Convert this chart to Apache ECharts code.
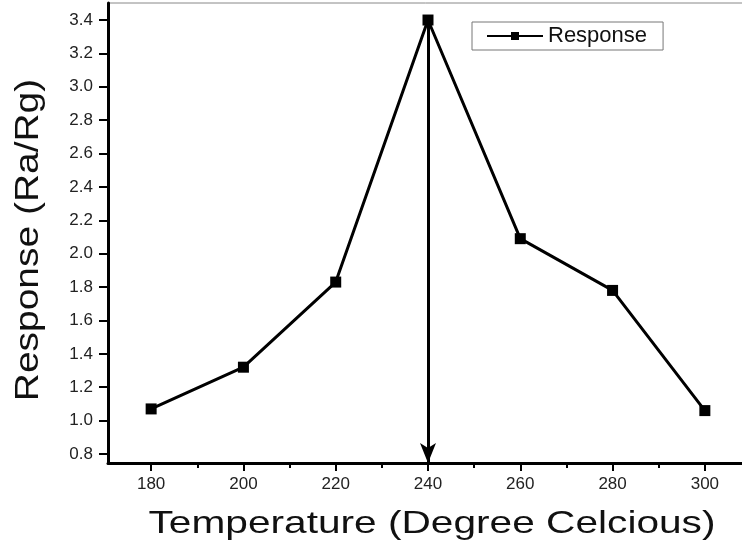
<!DOCTYPE html>
<html>
<head>
<meta charset="utf-8">
<script src="https://cdn.jsdelivr.net/npm/echarts@6/dist/echarts.min.js"></script>
<style>html,body{margin:0;padding:0;background:#fff;}#c{width:742px;height:550px;}</style>
</head>
<body>
<div id="c"></div>
<script>
const temperatures = [180, 200, 220, 240, 260, 280, 300];
const responses = [1.07, 1.32, 1.83, 3.40, 2.09, 1.78, 1.06];
const xTickLabels = [180, 200, 220, 240, 260, 280, 300];
const xMinorTicks = [190, 210, 230, 250, 270, 290];
const yTickLabels = [0.8, 1.0, 1.2, 1.4, 1.6, 1.8, 2.0, 2.2, 2.4, 2.6, 2.8, 3.0, 3.2, 3.4];
const arrowX = 240;
const arrowTop = 3.40;
const arrowBottom = 0.746;
const xTitle = 'Temperature (Degree Celcious)';
const yTitle = 'Response (Ra/Rg)';
const seriesName = 'Response';

const font = '"Liberation Sans", Arial, sans-serif';
const chart = echarts.init(document.getElementById('c'));
chart.setOption({
  animation: false,
  backgroundColor: '#fff',
  grid: { left: 108, top: 3, right: -12, bottom: 87, outerBoundsMode: 'none', containLabel: false,
          show: true, borderColor: '#888', borderWidth: 1 },
  legend: {
    left: 472, top: 22,
    data: [seriesName],
    itemWidth: 56, itemHeight: 10, itemGap: 4,
    padding: [3, 16, 3, 14],
    borderColor: '#777', borderWidth: 1,
    textStyle: { fontFamily: font, fontSize: 22, color: '#111' }
  },
  graphic: [
    { type: 'text', x: 432, y: 524, scaleX: 1.27,
      style: { text: xTitle, font: '32px ' + font, fill: '#111', align: 'center', verticalAlign: 'middle' } },
    { type: 'text', x: 29, y: 240, rotation: Math.PI / 2, scaleX: 1.18,
      style: { text: yTitle, font: '33px ' + font, fill: '#111', align: 'center', verticalAlign: 'middle' } }
  ],
  xAxis: [{
    type: 'value', min: 170.65, max: 310.65,
    axisLine: { show: true, lineStyle: { color: '#000', width: 3 } },
    axisTick: { show: true, length: 8, lineStyle: { color: '#000', width: 2 }, customValues: xTickLabels },
    axisLabel: { fontFamily: font, fontSize: 17, color: '#222', margin: 13, customValues: xTickLabels },
    splitLine: { show: false }
  }, {
    type: 'value', min: 170.65, max: 310.65, position: 'bottom',
    axisLine: { show: false },
    axisTick: { show: true, length: 5, lineStyle: { color: '#000', width: 2 }, customValues: xMinorTicks },
    axisLabel: { show: false },
    splitLine: { show: false }
  }],
  yAxis: {
    type: 'value', min: 0.746, max: 3.502,
    axisLine: { show: true, lineStyle: { color: '#000', width: 3 } },
    axisTick: { show: true, length: 9, lineStyle: { color: '#000', width: 2 }, customValues: yTickLabels },
    axisLabel: { fontFamily: font, fontSize: 17, color: '#222', margin: 15, customValues: yTickLabels,
      formatter: v => v.toFixed(1) },
    splitLine: { show: false }
  },
  series: [{
    name: seriesName, type: 'line',
    data: temperatures.map((t, i) => [t, responses[i]]),
    symbol: 'rect', symbolSize: 11,
    lineStyle: { color: '#000', width: 3 },
    itemStyle: { color: '#000' },
    markLine: {
      silent: true,
      symbol: ['none', 'arrow'], symbolSize: [12, 20],
      label: { show: false },
      lineStyle: { color: '#000', width: 3, type: 'solid' },
      data: [[{ coord: [arrowX, arrowTop] }, { coord: [arrowX, arrowBottom] }]]
    }
  }]
});
</script>
</body>
</html>
